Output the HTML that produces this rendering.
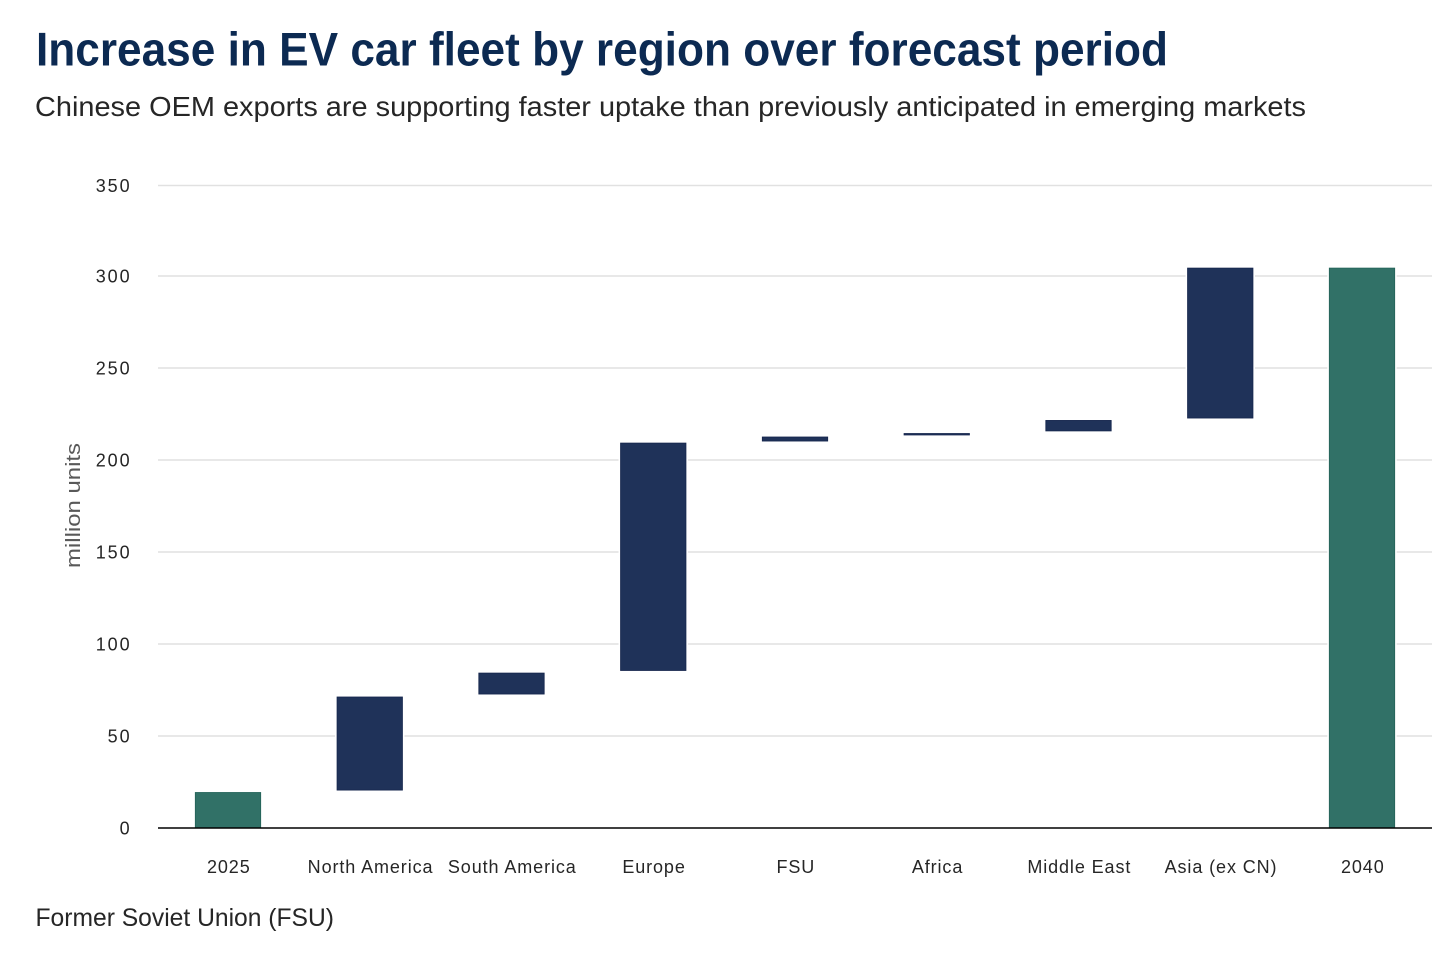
<!DOCTYPE html>
<html lang="en">
<head>
<meta charset="utf-8">
<title>Increase in EV car fleet by region over forecast period</title>
<style>
  html, body { margin: 0; padding: 0; background: #ffffff; }
  body { width: 1456px; height: 968px; overflow: hidden; }
  svg { display: block; font-family: "Liberation Sans", sans-serif; }
</style>
</head>
<body>
<svg id="chart" width="1456" height="968" viewBox="0 0 1456 968" xmlns="http://www.w3.org/2000/svg">
  <text x="36" y="65.5" font-size="47" font-weight="700" fill="#0c2a52" textLength="1132" lengthAdjust="spacingAndGlyphs">Increase in EV car fleet by region over forecast period</text>
  <text x="35" y="116" font-size="28" fill="#262626" textLength="1271" lengthAdjust="spacingAndGlyphs">Chinese OEM exports are supporting faster uptake than previously anticipated in emerging markets</text>
  <text transform="translate(80 505.5) rotate(-90)" text-anchor="middle" font-size="20" fill="#595959" textLength="125" lengthAdjust="spacingAndGlyphs">million units</text>
  <g id="grid"></g>
  <g id="yticks"></g>
  <g id="bars"></g>
  <line x1="158" x2="1432" y1="828" y2="828" stroke="#000000" stroke-width="1.6"></line>
  <g id="xticks"></g>
  <text x="35.5" y="926" font-size="25" fill="#262626" textLength="298.5" lengthAdjust="spacingAndGlyphs">Former Soviet Union (FSU)</text>
</svg>
<script>
const categories = ["2025", "North America", "South America", "Europe", "FSU", "Africa", "Middle East", "Asia (ex CN)", "2040"];
const barStarts = [0, 20.6, 72.8, 85.6, 210.3, 213.6, 215.8, 222.8, 0];
const barEnds = [19.3, 71.2, 84.2, 209.2, 212.5, 214.4, 221.5, 304.3, 304.3];
const barKinds = ["total", "delta", "delta", "delta", "delta", "delta", "delta", "delta", "total"];
const yTicks = [0, 50, 100, 150, 200, 250, 300, 350];

const SVG_NS = "http://www.w3.org/2000/svg";
const baseY = 828;
const unitPx = 1.84;
const firstCenter = 228;
const bandStep = 141.75;
const barWidth = 65.4;
const fills = { total: "#317167", delta: "#1f3259" };
const strokes = { total: "#236358", delta: "#15254c" };

function yScale(v) {
  return baseY - v * unitPx;
}
function xCenter(i) {
  return firstCenter + i * bandStep;
}
function make(tag, attrs, parent) {
  const el = document.createElementNS(SVG_NS, tag);
  Object.keys(attrs).forEach(function (k) { el.setAttribute(k, attrs[k]); });
  parent.appendChild(el);
  return el;
}

const gridGroup = document.getElementById("grid");
const yTickGroup = document.getElementById("yticks");
yTicks.forEach(function (t, idx) {
  const y = yScale(t) + (idx === yTicks.length - 1 ? 1.5 : 0);
  if (t !== 0) {
    const line = make("line", { x1: 158, x2: 1432, y1: y, y2: y, stroke: "#e1e1e1", "stroke-width": 1.4 }, gridGroup);
    
    
  }
  const label = make("text", { x: 131.5, y: y + 6.4, "text-anchor": "end", "font-size": 18, "letter-spacing": 1.9, fill: "#262626" }, yTickGroup);
  label.textContent = String(t);
  
  
});

const barGroup = document.getElementById("bars");
categories.forEach(function (c, i) {
  const top = yScale(barEnds[i]);
  const bottom = yScale(barStarts[i]);
  const left = xCenter(i) - barWidth / 2;
  const halo = make("rect", { x: left, y: top, width: barWidth, height: bottom - top, fill: "none", stroke: "#ffffff", "stroke-width": 4 }, barGroup);
  
  
  const bar = make("rect", { x: left, y: top, width: barWidth, height: bottom - top, fill: fills[barKinds[i]], stroke: strokes[barKinds[i]], "stroke-width": 0.8 }, barGroup);
  
  
});

const xTickGroup = document.getElementById("xticks");
categories.forEach(function (c, i) {
  const label = make("text", { x: xCenter(i) + 0.8, y: 873, "text-anchor": "middle", "font-size": 18, "letter-spacing": 0.9, fill: "#262626" }, xTickGroup);
  label.textContent = c;
  
  
});
</script>
</body>
</html>
